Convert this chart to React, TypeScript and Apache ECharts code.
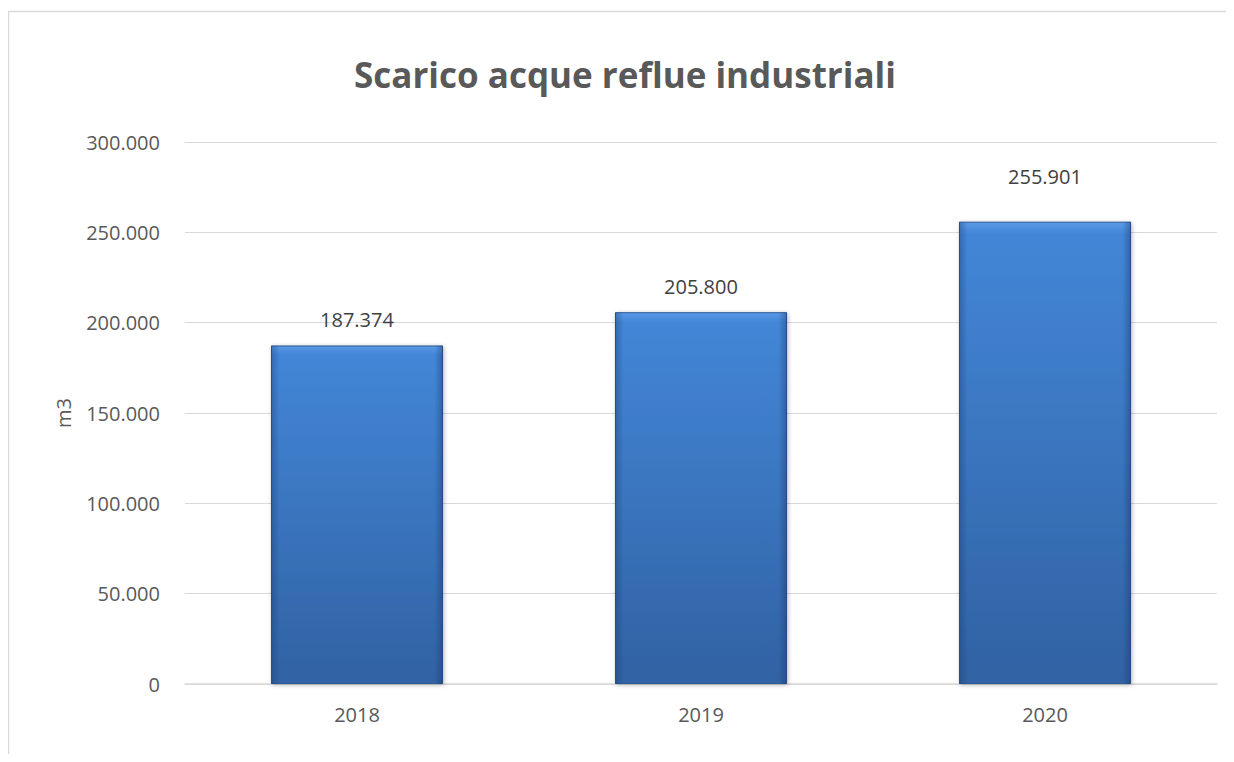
import React, { useEffect, useRef } from "react";
import * as echarts from "echarts";

const TITLE = "Scarico acque reflue industriali";
const CATEGORIES = ["2018", "2019", "2020"];
const VALUES = [187374, 205800, 255901];
const Y_NAME = "m3";

const fmt = (v: number) => {
  const s = Math.round(v).toString();
  return s.replace(/\B(?=(\d{3})+(?!\d))/g, ".");
};

export default function App() {
  const ref = useRef<HTMLDivElement>(null);
  useEffect(() => {
    if (!ref.current) return;
    const chart = echarts.init(ref.current, undefined, { renderer: "svg" });
    const font = "'Open Sans', 'Noto Sans', sans-serif";
    const barData = VALUES.map((v, i) => ({
      value: v,
      label: { distance: i === VALUES.length - 1 ? 35 : 16 },
    }));
    chart.setOption({
      animation: false,
      backgroundColor: "#ffffff",
      title: {
        text: TITLE,
        left: 612,
        top: 44,
        textAlign: "center",
        textStyle: { fontFamily: font, fontSize: 35, fontWeight: "bold", color: "#595959" },
      },
      graphic: [
        { type: "line", shape: { x1: 0.5, y1: 3, x2: 0.5, y2: 746 }, style: { stroke: "#d9d9d9", lineWidth: 1.5 } },
        { type: "line", shape: { x1: 0, y1: 3.5, x2: 1226, y2: 3.5 }, style: { stroke: "#d9d9d9", lineWidth: 1.5 } },
      ],
      grid: { left: 177, right: 17, top: 134, bottom: 70 },
      xAxis: {
        type: "category",
        data: CATEGORIES,
        axisLine: { lineStyle: { color: "#d9d9d9", width: 1.5 } },
        axisTick: { show: false },
        axisLabel: { color: "#595959", fontFamily: font, fontSize: 20, margin: 20 },
      },
      yAxis: {
        type: "value",
        min: 0,
        max: 300000,
        interval: 50000,
        name: Y_NAME,
        nameLocation: "middle",
        nameGap: 112,
        nameTextStyle: { color: "#595959", fontFamily: font, fontSize: 20 },
        axisLine: { show: false },
        axisTick: { show: false },
        splitLine: { lineStyle: { color: "#d9d9d9", width: 1.2 } },
        axisLabel: { color: "#595959", fontFamily: font, fontSize: 20, margin: 25, formatter: (v: number) => fmt(v) },
      },
      series: [
        {
          type: "bar",
          data: barData,
          barWidth: "50%",
          itemStyle: {
            color: new echarts.graphic.LinearGradient(0, 0, 0, 1, [
              { offset: 0, color: "#5a9ae6" },
              { offset: 0.025, color: "#4386d7" },
              { offset: 1, color: "#3062a3" },
            ]),
            borderColor: "#2c5b96",
            borderWidth: 1,
            shadowColor: "rgba(0,0,0,0.3)",
            shadowBlur: 4,
            shadowOffsetX: 1,
            shadowOffsetY: 1,
          },
          label: {
            show: true,
            position: "top",
            distance: 16,
            color: "#404040",
            fontFamily: font,
            fontSize: 20,
            formatter: (p: any) => fmt(p.value),
          },
          z: 2,
        },
        {
          type: "bar",
          data: VALUES,
          barWidth: "50%",
          barGap: "-100%",
          silent: true,
          itemStyle: {
            color: new echarts.graphic.LinearGradient(0, 0, 1, 0, [
              { offset: 0, color: "rgba(20,50,100,0.35)" },
              { offset: 0.05, color: "rgba(20,50,100,0)" },
              { offset: 0.95, color: "rgba(20,50,100,0)" },
              { offset: 1, color: "rgba(20,50,100,0.4)" },
            ]),
          },
          z: 3,
        },
      ],
    });
    return () => chart.dispose();
  }, []);
  return <div ref={ref} style={{ width: 1226, height: 746 }} />;
}
